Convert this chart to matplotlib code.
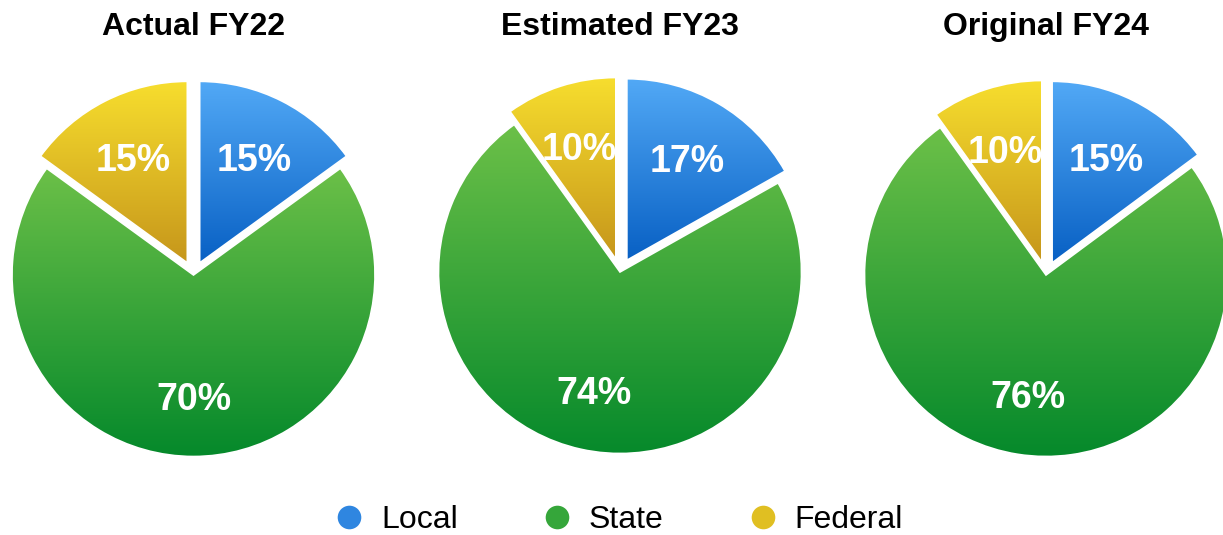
import numpy as np
import matplotlib
matplotlib.use('Agg')
import matplotlib.pyplot as plt
from matplotlib.lines import Line2D
from matplotlib.colors import to_rgb

plt.rcParams['font.family'] = ['Liberation Sans', 'DejaVu Sans']

titles = ['Actual FY22', 'Estimated FY23', 'Original FY24']
categories = ['Local', 'State', 'Federal']
local_vals = [15, 17, 15]
state_vals = [70, 74, 76]
federal_vals = [15, 10, 10]

# gradient colours (top, bottom) for each category
grad_colors = {
    'Local': ('#52a9f6', '#0860c4'),
    'State': ('#6cc048', '#05892b'),
    'Federal': ('#f7de2e', '#c6961b'),
}
legend_colors = ['#2f86e0', '#35a63a', '#e0bf22']

W, H = 1223, 535
# pie centres / radius in pixels
centers = [(193.5, 275), (620, 272), (1046, 275)]
R = 181.5
M = 1.2  # axes margin so exploded wedges are not clipped


def grad_img(top, bottom):
    t = np.linspace(0, 1, 256)[:, None]
    c0 = np.array(to_rgb(top))
    c1 = np.array(to_rgb(bottom))
    return (c0 * (1 - t) + c1 * t)[:, None, :]


fig = plt.figure(figsize=(W / 100, H / 100), dpi=100)

for i in range(3):
    cx, cy = centers[i]
    r = R * M
    ax = fig.add_axes([(cx - r) / W, (H - cy - r) / H, 2 * r / W, 2 * r / H])
    vals = [local_vals[i], state_vals[i], federal_vals[i]]
    labels = ['%d%%' % v for v in vals]
    wedges, texts = ax.pie(vals, labels=labels, labeldistance=0.66,
                           startangle=90, counterclock=False,
                           explode=[0.075, 0, 0.075],
                           wedgeprops=dict(edgecolor='white', linewidth=1.2),
                           textprops=dict(color='white', fontsize=27,
                                          fontweight='bold', ha='center',
                                          va='center'))
    for w, cat in zip(wedges, categories):
        verts = w.get_path().vertices
        x0, y0 = verts.min(axis=0)
        x1, y1 = verts.max(axis=0)
        im = ax.imshow(grad_img(*grad_colors[cat]), extent=[x0, x1, y0, y1],
                       origin='upper', aspect='auto', zorder=w.get_zorder() - 0.1,
                       interpolation='bilinear')
        im.set_clip_path(w)
        w.set_facecolor('none')
    for t in texts:
        t.set_horizontalalignment('center')
        tx, ty = t.get_position()
        t.set_position((tx, ty - 5 / R))
        t.set_zorder(5)
    ax.set_xlim(-M, M)
    ax.set_ylim(-M, M)
    ax.set_aspect('auto')
    ax.axis('off')
    fig.text(cx / W, 1 - 27 / H, titles[i], ha='center', va='center',
             fontsize=23, fontweight='bold')

handles = [Line2D([], [], marker='o', linestyle='none', markersize=17,
                  markerfacecolor=c, markeredgecolor='none')
           for c in legend_colors]
fig.legend(handles, categories, loc='center', bbox_to_anchor=(618 / W, 1 - 520 / H),
           ncol=3, frameon=False, fontsize=23, handlelength=1.0,
           handletextpad=0.5, columnspacing=2.6, borderpad=0.1)

fig.savefig('out.png', dpi=100)
